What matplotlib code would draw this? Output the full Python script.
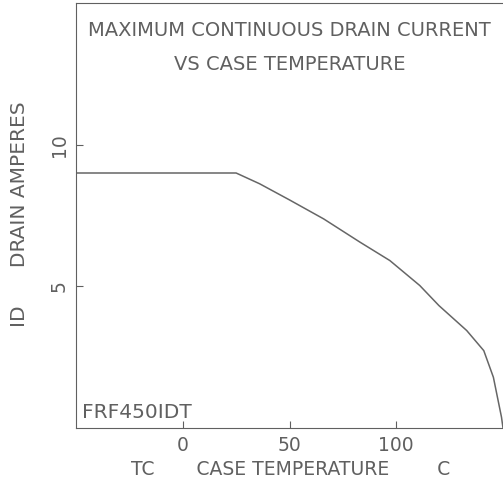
import numpy as np
import matplotlib.pyplot as plt

# derating curve
temp_c = [-50, 25, 36, 50, 66, 83, 97, 111, 120, 133, 141, 145.5, 149.3, 150]
drain_a = [9.0, 9.0, 8.62, 8.05, 7.38, 6.56, 5.91, 5.03, 4.32, 3.44, 2.73, 1.79, 0.38, 0.0]

x_ticks = [0, 50, 100]
y_ticks = [5, 10]

gray = '#606060'
fs = 13.5
plt.rcParams['font.family'] = ['DejaVu Sans']

fig = plt.figure(figsize=(5.03, 4.88), dpi=100)
ax = fig.add_axes([76 / 503, 60 / 488, 427 / 503, 425 / 488])

ax.plot(temp_c, drain_a, color='#666666', lw=1.1)
ax.set_xlim(-50, 150)
ax.set_ylim(0, 15)

ax.set_xticks(x_ticks)
ax.set_yticks(y_ticks)
ax.tick_params(direction='in', length=5, color=gray, labelcolor=gray, labelsize=fs)
ax.tick_params(axis='x', pad=6)
ax.tick_params(axis='y', pad=5)
for lab in ax.get_yticklabels():
    lab.set_rotation(90)
    lab.set_va('center')

for side in ['left', 'bottom', 'top']:
    ax.spines[side].set_color(gray)
ax.spines['right'].set_visible(False)

ax.text(0.5, 0.935, 'MAXIMUM CONTINUOUS DRAIN CURRENT', transform=ax.transAxes,
        ha='center', va='center', fontsize=14, color=gray)
ax.text(0.5, 0.855, 'VS CASE TEMPERATURE', transform=ax.transAxes,
        ha='center', va='center', fontsize=14, color=gray)
ax.text(0.014, 0.036, 'FRF450IDT', transform=ax.transAxes,
        ha='left', va='center', fontsize=14.5, color=gray)

ax.set_xlabel('TC       CASE TEMPERATURE        C', fontsize=fs, color=gray)
ax.xaxis.set_label_coords(0.502, -0.075)
ax.set_ylabel('ID      DRAIN AMPERES', fontsize=14.5, color=gray)
ax.yaxis.set_label_coords(-0.111, 0.504)

fig.savefig('out.png', dpi=100)
